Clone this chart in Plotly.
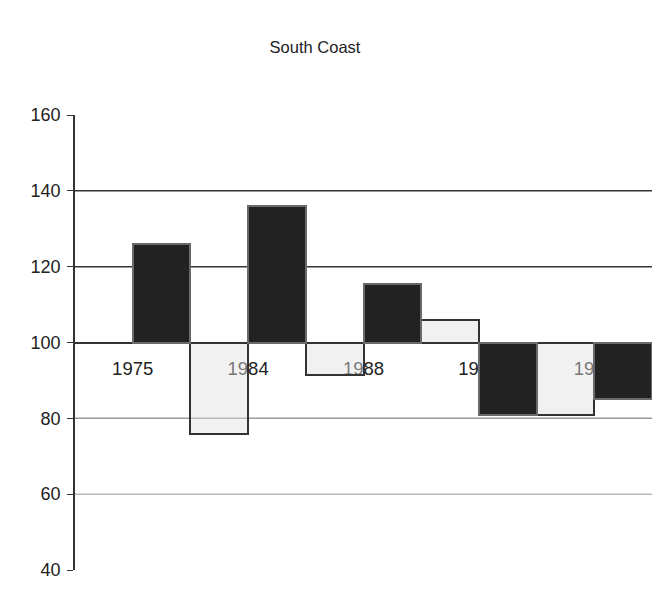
import plotly.graph_objects as go

categories = ["1975", "1984", "1988", "1992", "1996"]
light_values = [None, 76, 91.5, 106, 81]
dark_values = [126, 136, 115.5, 81, 85]
baseline = 100
y_ticks = [40, 60, 80, 100, 120, 140, 160]

fig = go.Figure()
fig.add_trace(go.Bar(
    x=categories,
    y=[None if v is None else v - baseline for v in light_values],
    base=baseline,
    marker=dict(color="rgba(225,225,225,0.45)", line=dict(color="#333333", width=2)),
    name="light",
))
fig.add_trace(go.Bar(
    x=categories,
    y=[v - baseline for v in dark_values],
    base=baseline,
    marker=dict(color="#222222", line=dict(color="#6a6a6a", width=2)),
    name="dark",
))

for g, c in [(60, "#b8b8b8"), (80, "#9a9a9a"), (120, "#333333"), (140, "#333333")]:
    fig.add_hline(y=g, line=dict(color=c, width=1.5), layer="below")

fig.update_layout(
    width=659, height=603,
    margin=dict(l=75, r=7, t=115, b=33),
    paper_bgcolor="white", plot_bgcolor="white",
    barmode="group", bargap=0, bargroupgap=0,
    showlegend=False,
    font=dict(family="Liberation Sans, Arial, sans-serif", size=18, color="#222222"),
    title=dict(text="South Coast", x=0.478, xanchor="center", y=0.922, yanchor="middle",
               font=dict(size=16.5, color="#222222")),
    xaxis=dict(
        anchor="free", position=0.5, layer="below traces",
        showline=True, linecolor="#333333", linewidth=1.5,
        ticks="", showgrid=False, ticklabelstandoff=10,
        tickfont=dict(size=18.5),
    ),
    yaxis=dict(
        range=[40, 160], tickvals=y_ticks, showgrid=False,
        showline=True, linecolor="#333333", linewidth=1.5,
        ticks="outside", ticklen=6, tickcolor="#333333",
        zeroline=False, tickfont=dict(size=18), ticklabelstandoff=3,
    ),
)

fig.write_html("out.html")
